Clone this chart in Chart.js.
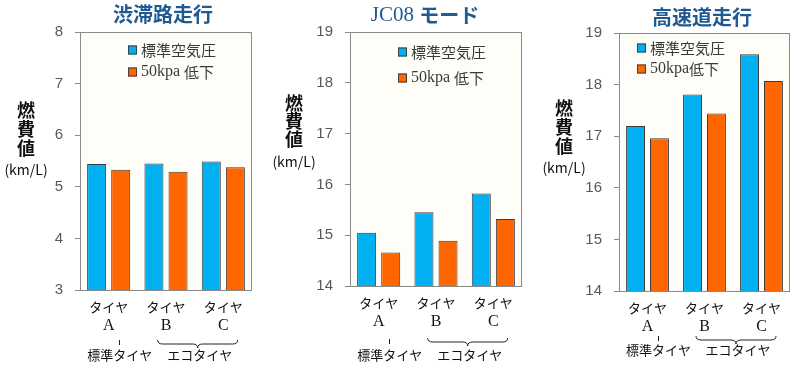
<!DOCTYPE html>
<html>
<head>
<meta charset="utf-8">
<script src="https://cdn.jsdelivr.net/npm/chart.js@4.4.0/dist/chart.umd.min.js"></script>
<style>
  html, body { margin: 0; padding: 0; background: #fff; }
  #wrap { position: relative; width: 800px; height: 370px; }
  canvas { position: absolute; top: 0; }
</style>
</head>
<body>
<div id="wrap">
  <canvas id="c1" width="268" height="370" style="left:0"></canvas>
  <canvas id="c2" width="268" height="370" style="left:268px"></canvas>
  <canvas id="c3" width="264" height="370" style="left:536px"></canvas>
</div>
<script>
// ---- data ----
const categories = ['タイヤ', 'タイヤ', 'タイヤ'];
const tireLetters = ['A', 'B', 'C'];
const groupNames = ['標準タイヤ', 'エコタイヤ'];
const yAxisLabel = ['燃', '費', '値'];
const yAxisUnit = '(km/L)';

const congestedTitle = '渋滞路走行';
const congestedSeries = ['標準空気圧', '50kpa 低下'];
const congestedStd = [5.44, 5.45, 5.49];
const congestedLow = [5.33, 5.29, 5.38];
const congestedTicks = [3, 4, 5, 6, 7, 8];

const jc08Title = 'JC08 モード';
const jc08Series = ['標準空気圧', '50kpa 低下'];
const jc08Std = [15.05, 15.45, 15.82];
const jc08Low = [14.66, 14.89, 15.32];
const jc08Ticks = [14, 15, 16, 17, 18, 19];

const highwayTitle = '高速道走行';
const highwaySeries = ['標準空気圧', '50kpa低下'];
const highwayStd = [17.20, 17.81, 18.59];
const highwayLow = [16.96, 17.44, 18.07];
const highwayTicks = [14, 15, 16, 17, 18, 19];

// ---- style ----
const SANS = '"Noto Sans CJK JP", "Noto Sans", sans-serif';
const SERIF = '"Liberation Serif", "DejaVu Serif", serif';
const NUM = '"Liberation Sans", Arial, sans-serif';
const BLUE = '#00B0F0';
const ORANGE = '#FF6600';
const AXIS = '#8a8a8a';

// splits into ascii / non-ascii runs so latin bits can be serif
function mixedParts(text, size, color, weight, serifAscii) {
  return text.match(/[\x20-\x7e]+|[^\x20-\x7e]+/g).map(function (t) {
    const ascii = /^[\x20-\x7e]+$/.test(t);
    const fam = ascii && serifAscii ? SERIF : SANS;
    const w = ascii && serifAscii ? 'normal' : weight;
    const sz = ascii && serifAscii ? size + 1 : size;
    return { text: t, font: w + ' ' + sz + 'px ' + fam, color: color };
  });
}

function drawParts(ctx, parts, x, y, align) {
  let total = 0;
  parts.forEach(function (p) { ctx.font = p.font; p.w = ctx.measureText(p.text).width; total += p.w; });
  let cx = align === 'center' ? x - total / 2 : x;
  ctx.textAlign = 'left';
  ctx.textBaseline = 'middle';
  parts.forEach(function (p) {
    ctx.font = p.font;
    ctx.fillStyle = p.color;
    ctx.fillText(p.text, cx, y);
    cx += p.w;
  });
}

function makeChart(id, title, series, std, low, ticks, lay) {
  const decor = {
    id: 'decor',
    beforeDraw: function (chart) {
      const a = chart.chartArea, ctx = chart.ctx;
      ctx.save();
      ctx.fillStyle = '#FFFDF7';
      ctx.fillRect(a.left, a.top, a.right - a.left, a.bottom - a.top);
      ctx.restore();
    },
    afterDraw: function (chart) {
      const a = chart.chartArea, ctx = chart.ctx;
      const xs = chart.scales.x;
      ctx.save();
      // plot frame
      ctx.strokeStyle = AXIS;
      ctx.lineWidth = 1;
      ctx.strokeRect(Math.round(a.left) + 0.5, Math.round(a.top) + 0.5,
        Math.round(a.right - a.left) - 1, Math.round(a.bottom - a.top));

      // title
      drawParts(ctx, mixedParts(title, 20, '#1F5A93', 'bold', true), lay.titleX, lay.titleY, 'center');

      // legend
      chart.data.datasets.forEach(function (ds, i) {
        const lx = a.left + lay.legendX;
        const ly = a.top + lay.legendY[i];
        ctx.fillStyle = ds.backgroundColor;
        ctx.fillRect(lx, ly - 4.5, 9, 9);
        ctx.strokeStyle = '#404040';
        ctx.strokeRect(lx + 0.5, ly - 4, 8, 8);
        drawParts(ctx, mixedParts(ds.label, 15, '#3a3a3a', 'normal', true), lx + 13, ly, 'left');
      });

      // y axis label, stacked
      yAxisLabel.forEach(function (ch, i) {
        drawParts(ctx, [{ text: ch, font: 'bold 18px ' + SANS, color: '#111' }], lay.yLabelX, lay.yLabelY[i], 'center');
      });
      drawParts(ctx, [{ text: yAxisUnit, font: '14px ' + SANS, color: '#111' }], lay.yLabelX, lay.yUnitY, 'center');

      // group annotations under the tyres
      const xA = xs.getPixelForValue(0) + 10;
      ctx.strokeStyle = '#222';
      ctx.beginPath();
      ctx.moveTo(Math.round(xA) + 0.5, lay.markY);
      ctx.lineTo(Math.round(xA) + 0.5, lay.markY + 5);
      ctx.stroke();
      drawParts(ctx, [{ text: groupNames[0], font: '13px ' + SANS, color: '#111' }], xA + 1, lay.groupTextY, 'center');

      const mid = (xs.getPixelForValue(1) + xs.getPixelForValue(2)) / 2 + 3;
      const x1 = mid - 40, x2 = mid + 40, y0 = lay.braceY;
      ctx.beginPath();
      ctx.moveTo(x1, y0);
      ctx.quadraticCurveTo(x1, y0 + 4, x1 + 5, y0 + 4);
      ctx.lineTo(mid - 5, y0 + 4);
      ctx.quadraticCurveTo(mid, y0 + 4, mid, y0 + 8);
      ctx.quadraticCurveTo(mid, y0 + 4, mid + 5, y0 + 4);
      ctx.lineTo(x2 - 5, y0 + 4);
      ctx.quadraticCurveTo(x2, y0 + 4, x2, y0);
      ctx.stroke();
      drawParts(ctx, [{ text: groupNames[1], font: '13px ' + SANS, color: '#111' }], mid + 2, lay.groupTextY, 'center');
      ctx.restore();
    }
  };

  return new Chart(document.getElementById(id).getContext('2d'), {
    type: 'bar',
    data: {
      labels: categories,
      datasets: [{
        label: series[0],
        data: std,
        backgroundColor: BLUE,
        borderColor: '#3c3c3c',
        borderWidth: 1
      }, {
        label: series[1],
        data: low,
        backgroundColor: ORANGE,
        borderColor: '#3c3c3c',
        borderWidth: 1
      }]
    },
    options: {
      responsive: false,
      animation: false,
      categoryPercentage: 0.84,
      barPercentage: 0.79,
      layout: { padding: { left: 0, right: lay.padRight, top: lay.padTop, bottom: 0 } },
      plugins: { legend: { display: false }, title: { display: false }, tooltip: { enabled: false } },
      scales: {
        y: {
          min: ticks[0],
          max: ticks[ticks.length - 1],
          afterFit: function (s) { s.width = lay.axisWidth; },
          ticks: { stepSize: 1, color: '#595959', padding: 12, font: { family: NUM, size: 15 } },
          grid: { drawOnChartArea: false, drawTicks: true, tickLength: 5, color: AXIS },
          border: { color: AXIS }
        },
        x: {
          afterFit: function (s) { s.height = 26; },
          grid: { display: false, drawTicks: false },
          border: { display: false },
          ticks: { padding: 9, color: '#111', font: { family: SANS, size: 13 } }
        },
        x2: {
          type: 'category',
          labels: tireLetters,
          position: 'bottom',
          offset: true,
          afterFit: function (s) { s.height = lay.restHeight; },
          grid: { display: false, drawTicks: false },
          border: { display: false },
          ticks: { padding: 0, color: '#111', font: { family: SERIF, size: 16 } }
        }
      }
    },
    plugins: [decor]
  });
}

makeChart('c1', congestedTitle, congestedSeries, congestedStd, congestedLow, congestedTicks, {
  axisWidth: 80, padRight: 16, padTop: 32, restHeight: 54,
  titleX: 163, titleY: 14, legendX: 48, legendY: [18, 40],
  yLabelX: 26, yLabelY: [110, 129, 148], yUnitY: 170,
  markY: 340, braceY: 340, groupTextY: 355
});
makeChart('c2', jc08Title, jc08Series, jc08Std, jc08Low, jc08Ticks, {
  axisWidth: 82, padRight: 14, padTop: 32, restHeight: 58,
  titleX: 157, titleY: 15, legendX: 48, legendY: [20, 46],
  yLabelX: 26, yLabelY: [103, 121, 139], yUnitY: 162,
  markY: 339, braceY: 338, groupTextY: 355
});
makeChart('c3', highwayTitle, highwaySeries, highwayStd, highwayLow, highwayTicks, {
  axisWidth: 83, padRight: 10, padTop: 33, restHeight: 53,
  titleX: 166, titleY: 17, legendX: 18, legendY: [15, 36],
  yLabelX: 28, yLabelY: [108, 127, 146], yUnitY: 168,
  markY: 336, braceY: 336, groupTextY: 350
});
</script>
</body>
</html>
